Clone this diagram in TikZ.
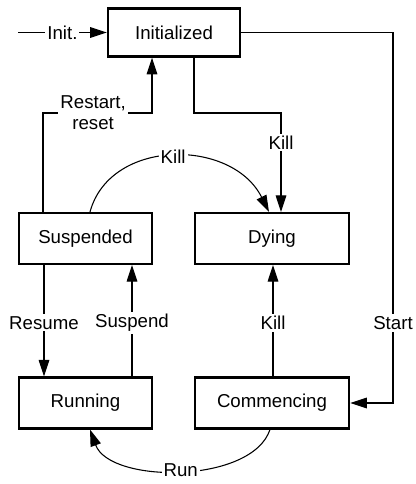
\documentclass[tikz,border=0pt]{standalone}
\usepackage{fontspec}
\setmainfont{Liberation Sans}
\usetikzlibrary{arrows.meta}
\tikzset{
  state/.style={draw, line width=1.8pt, minimum height=38pt, inner sep=0pt, font=\fontsize{14}{16}\selectfont},
  arr/.style={line width=0.8pt, -{Triangle[length=12.5pt,width=8pt]}},
  lbl/.style={fill=white, inner sep=1.5pt, font=\fontsize{14}{16}\selectfont, align=center}
}
\begin{document}
\begin{tikzpicture}[x=0.75pt,y=-0.75pt]
\useasboundingbox (0,0) rectangle (415,484);
\node[state, minimum width=99pt, minimum height=36pt] (init) at (174,32.5) {Initialized};
\node[state, minimum width=100pt] (susp) at (85.5,238.5) {Suspended};
\node[state, minimum width=115.5pt] (dying) at (272,238.5) {Dying};
\node[state, minimum width=100pt] (run) at (85.5,403) {Running};
\node[state, minimum width=115.5pt] (comm) at (272,403) {Commencing};
\coordinate (start) at (18,32.5);
% Init
\draw[arr] (start) -- node[lbl, pos=0.5]{Init.} (init.west);
% Start
\draw[arr] (init.east) -- (393,0 |- init.east) -- node[lbl, pos=0.784]{Start} (393,0 |- comm.east) -- (comm.east);
% Restart, reset
\draw[arr] (43,0 |- susp.north) -- (43,113) -- node[lbl, pos=0.46]{Restart,\\reset} (152,113) -- (152,0 |- init.south);
% Kill from Initialized
\draw[arr] (194,0 |- init.south) -- (194,113) -- (281,113) -- node[lbl, pos=0.3]{Kill} (281,0 |- dying.north);
% Kill arc
\draw[arr] (90,0 |- susp.north) .. controls (110,138) and (232,138) .. node[lbl, pos=0.5]{Kill} (269,0 |- dying.north);
% Resume / Suspend
\draw[arr] (44,0 |- susp.south) -- node[lbl, pos=0.52]{Resume} (44,0 |- run.north);
\draw[arr] (132,0 |- run.north) -- node[lbl, pos=0.48]{Suspend} (132,0 |- susp.south);
% Kill from Commencing
\draw[arr] (273,0 |- comm.north) -- node[lbl, pos=0.48]{Kill} (273,0 |- dying.south);
% Run arc
\draw[arr] (270,0 |- comm.south) .. controls (252,484) and (110,484) .. node[lbl, pos=0.5]{Run} (90,0 |- run.south);
\end{tikzpicture}
\end{document}
